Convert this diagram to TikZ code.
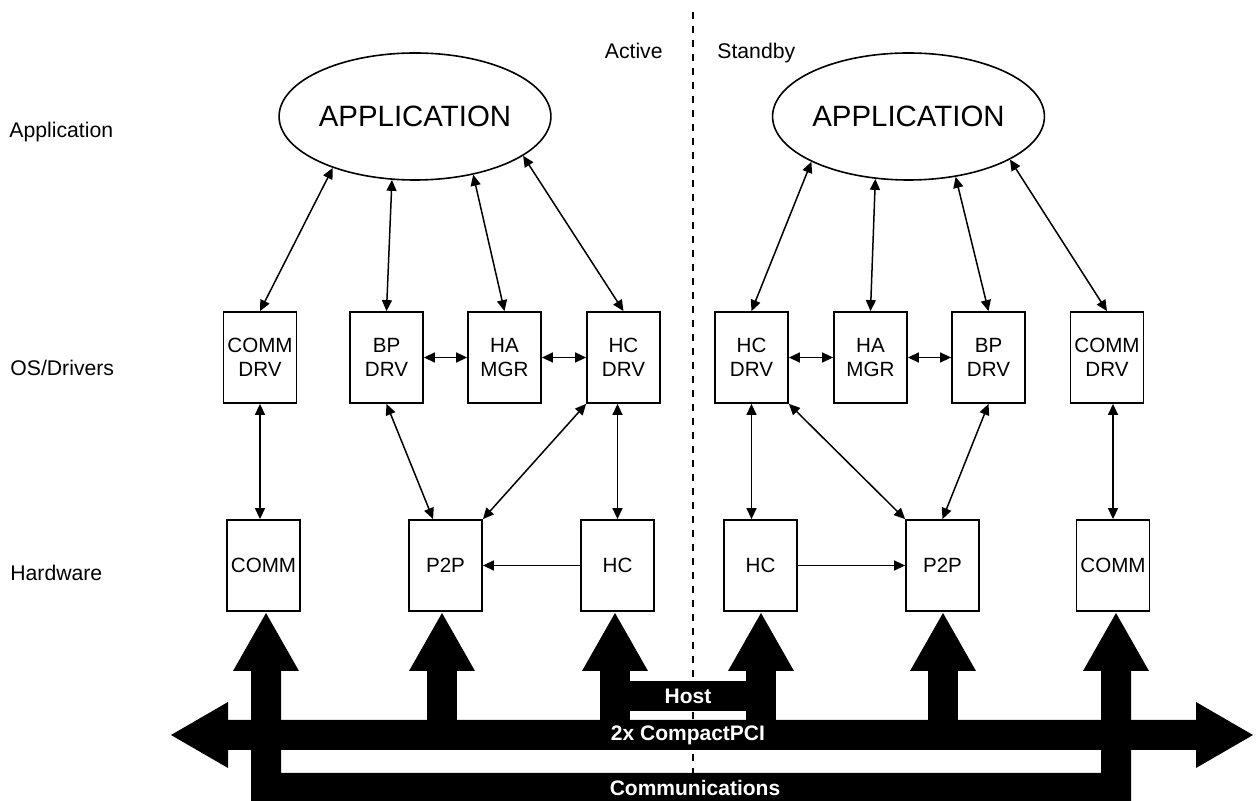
\documentclass[tikz,border=0pt]{standalone}
\usepackage{fontspec}
\setmainfont{Liberation Sans}
\usetikzlibrary{shapes.geometric,arrows.meta}

\begin{document}
\begin{tikzpicture}[x=0.5pt,y=-0.5pt,
box/.style={draw=black, line width=0.9pt, minimum width=36.5pt, minimum height=45.5pt,
  inner sep=0pt, align=center, font=\fontsize{10.3}{12.2}\selectfont},
app/.style={draw=black, ellipse, line width=0.8pt, minimum width=131pt, minimum height=63.5pt,
  inner sep=0pt, font=\fontsize{14.7}{16}\selectfont},
layer/.style={anchor=base west, inner sep=0pt, font=\fontsize{10.6}{12}\selectfont},
link/.style={line width=0.75pt, {Triangle[length=5.5pt,width=5pt]}-{Triangle[length=5.5pt,width=5pt]}},
onelink/.style={line width=0.75pt, -{Triangle[length=5.5pt,width=5pt]}},
buslabel/.style={text=white, inner sep=0pt, font=\bfseries\fontsize{10.5}{12}\selectfont}]
\useasboundingbox (0,0) rectangle (1260,801);
%\draw[help lines] (0,0) grid[step=50] (1260,801);

% layer names
\node[layer] (lbl-app) at (9,138) {Application};
\node[layer] (lbl-os) at (10,376) {OS/Drivers};
\node[layer] (lbl-hw) at (10,581) {Hardware};
\node[layer, anchor=base east] (lbl-act) at (663,59) {Active};
\node[layer] (lbl-stby) at (717,59) {Standby};

\draw[dash pattern=on 3.5pt off 3.5pt, line width=0.6pt] (693,12) -- (693,801);

% active side
\node[app] (app-act) at (415,116.5) {APPLICATION};
\node[box] (commdrv-act) at (260,357.5) {COMM\\DRV};
\node[box] (bpdrv-act) at (386.5,357.5) {BP\\DRV};
\node[box] (hamgr-act) at (504.5,357.5) {HA\\MGR};
\node[box] (hcdrv-act) at (623.5,357.5) {HC\\DRV};
\node[box] (comm-act) at (263.5,565.5) {COMM};
\node[box] (p2p-act) at (445.5,565.5) {P2P};
\node[box] (hc-act) at (617.5,565.5) {HC};

\draw[link] (app-act.212.5) -- (commdrv-act.north);
\draw[link] (app-act.250.6) -- (bpdrv-act.north);
\draw[link] (app-act.315) -- (hamgr-act.north);
\draw[link] (app-act.340.5) -- (hcdrv-act.north);
\draw[link] (bpdrv-act) -- (hamgr-act);
\draw[link] (hamgr-act) -- (hcdrv-act);
\draw[link] (commdrv-act.south) -- (commdrv-act.south |- comm-act.north);
\draw[link] (bpdrv-act.south) -- (p2p-act.105);
\draw[link] (hcdrv-act.south west) -- (p2p-act.north east);
\draw[link] (hc-act.north |- hcdrv-act.south) -- (hc-act.north);
\draw[onelink] (hc-act) -- (p2p-act);

% standby side
\node[app] (app-stby) at (908.5,116.5) {APPLICATION};
\node[box] (hcdrv-stby) at (751.5,357.5) {HC\\DRV};
\node[box] (hamgr-stby) at (870.5,357.5) {HA\\MGR};
\node[box] (bpdrv-stby) at (988.5,357.5) {BP\\DRV};
\node[box] (commdrv-stby) at (1107,357.5) {COMM\\DRV};
\node[box] (hc-stby) at (760.5,565.5) {HC};
\node[box] (p2p-stby) at (942.5,565.5) {P2P};
\node[box] (comm-stby) at (1113,565.5) {COMM};

\draw[link] (app-stby.205.5) -- (hcdrv-stby.north);
\draw[link] (app-stby.242.9) -- (hamgr-stby.north);
\draw[link] (app-stby.308) -- (bpdrv-stby.north);
\draw[link] (app-stby.337) -- (commdrv-stby.north);
\draw[link] (hcdrv-stby) -- (hamgr-stby);
\draw[link] (hamgr-stby) -- (bpdrv-stby);
\draw[link] (hcdrv-stby.south) -- (hcdrv-stby.south |- hc-stby.north);
\draw[link] (hcdrv-stby.south east) -- (p2p-stby.north west);
\draw[link] (bpdrv-stby.south) -- (p2p-stby.north);
\draw[link] (comm-stby.north |- commdrv-stby.south) -- (comm-stby.north);
\draw[onelink] (hc-stby) -- (p2p-stby);

% buses
\foreach \cx in {266,442,615,761,943,1116}
  \fill (\cx-33,671) -- (\cx,613) -- (\cx+33,671) -- cycle;
\fill (171,735) -- (228,702) -- (228,720) -- (1196,720) -- (1196,702) -- (1253,735)
  -- (1196,768) -- (1196,750) -- (228,750) -- (228,768) -- cycle;
\fill (251,671) -- (251,801) -- (1131,801) -- (1131,671) -- (1101,671) -- (1101,773)
  -- (281,773) -- (281,671) -- cycle;
\fill (427,671) rectangle (457,720);
\fill (928,671) rectangle (958,720);
\fill (600,671) rectangle (630,720);
\fill (746,671) rectangle (776,720);
\fill (630,681) rectangle (746,711);

\node[buslabel] (host) at (688,696) {Host};
\node[buslabel] (cpci) at (688,735) {2x CompactPCI};
\node[buslabel] (comms) at (695,788) {Communications};
\end{tikzpicture}
\end{document}
